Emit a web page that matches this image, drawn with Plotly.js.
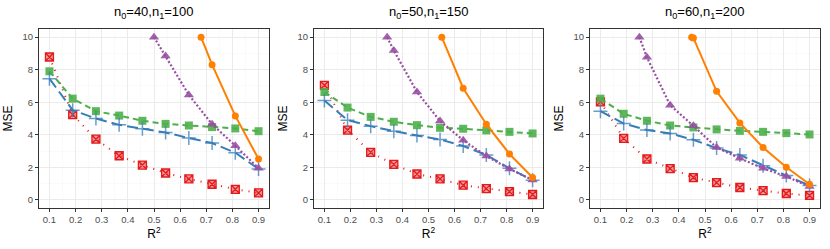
<!DOCTYPE html>
<html>
<head>
<meta charset="utf-8">
<script src="https://cdn.plot.ly/plotly-3.0.1.min.js"></script>
<style>html,body{margin:0;padding:0;background:#fff;}#chart{width:830px;height:249px;}</style>
</head>
<body>
<div id="chart"></div>
<script>
// Panel titles
const panelTitles = ["n<sub>0</sub>=40,n<sub>1</sub>=100", "n<sub>0</sub>=50,n<sub>1</sub>=150", "n<sub>0</sub>=60,n<sub>1</sub>=200"];
// Common R^2 grid
const r2 = [0.1, 0.1889, 0.2778, 0.3667, 0.4556, 0.5444, 0.6333, 0.7222, 0.8111, 0.9];
const xTicks = [0.1, 0.2, 0.3, 0.4, 0.5, 0.6, 0.7, 0.8, 0.9];
const yTicks = [0, 2, 4, 6, 8, 10];

// Red (dotted, square-x)
const redP1 = [8.78, 5.24, 3.73, 2.71, 2.14, 1.65, 1.29, 0.96, 0.65, 0.43];
const redP2 = [7.04, 4.29, 2.92, 2.18, 1.59, 1.29, 0.90, 0.69, 0.51, 0.33];
const redP3 = [6.02, 3.78, 2.51, 1.92, 1.37, 1.06, 0.76, 0.57, 0.39, 0.27];
// Green (dashed, square)
const greenP1 = [7.90, 6.22, 5.45, 5.18, 4.86, 4.67, 4.57, 4.47, 4.39, 4.22];
const greenP2 = [6.63, 5.67, 5.10, 4.80, 4.59, 4.43, 4.37, 4.27, 4.18, 4.08];
const greenP3 = [6.22, 5.29, 4.86, 4.57, 4.45, 4.33, 4.24, 4.18, 4.10, 4.02];
// Blue (longdash, plus)
const blueP1 = [7.45, 5.51, 5.00, 4.61, 4.37, 4.14, 3.80, 3.49, 2.90, 1.90];
const blueP2 = [6.10, 4.90, 4.53, 4.22, 3.96, 3.71, 3.31, 2.76, 1.94, 1.20];
const blueP3 = [5.45, 4.69, 4.29, 4.08, 3.69, 3.18, 2.76, 2.10, 1.49, 0.88];
// Purple (dotted, triangle) - first point is where the curve enters the 0-10 window
const purpleXP1 = [0.5, 0.5444, 0.6333, 0.7222, 0.8111, 0.9];
const purpleP1 = [10, 8.84, 6.45, 4.65, 3.33, 1.94];
const purpleXP2 = [0.341, 0.3667, 0.4556, 0.5444, 0.6333, 0.7222, 0.8111, 0.9];
const purpleP2 = [10, 9.18, 6.63, 4.84, 3.67, 2.69, 1.90, 1.22];
const purpleXP3 = [0.249, 0.2778, 0.3667, 0.4556, 0.5444, 0.6333, 0.7222, 0.8111, 0.9];
const purpleP3 = [10, 8.76, 5.82, 4.55, 3.22, 2.55, 1.94, 1.43, 0.82];
// Orange (solid, circle)
const orangeXP1 = [0.68, 0.7222, 0.8111, 0.9];
const orangeP1 = [10, 8.31, 5.16, 2.51];
const orangeXP2 = [0.551, 0.6333, 0.7222, 0.8111, 0.9];
const orangeP2 = [10, 6.86, 4.65, 2.82, 1.37];
const orangeXP3 = [0.449, 0.4556, 0.5444, 0.6333, 0.7222, 0.8111, 0.9];
const orangeP3 = [10, 9.95, 6.67, 4.73, 3.22, 2.00, 0.96];

const panels = [
  {red: redP1, green: greenP1, blue: blueP1, px: purpleXP1, p: purpleP1, ox: orangeXP1, o: orangeP1},
  {red: redP2, green: greenP2, blue: blueP2, px: purpleXP2, p: purpleP2, ox: orangeXP2, o: orangeP2},
  {red: redP3, green: greenP3, blue: blueP3, px: purpleXP3, p: purpleP3, ox: orangeXP3, o: orangeP3}
];

const domainsX = [[39/830, 269/830], [314/830, 543/830], [590/830, 820/830]];
const domY = [1 - 208/249, 1 - 29/249];

const traces = [];
const layout = {
  width: 830, height: 249,
  margin: {l: 0, r: 0, t: 0, b: 0},
  paper_bgcolor: "#fff", plot_bgcolor: "#fff",
  showlegend: false,
  font: {family: "Liberation Sans, Arial, sans-serif", size: 9.5, color: "#4d4d4d"},
  annotations: [], shapes: []
};

panels.forEach((pd, i) => {
  const xa = i === 0 ? "x" : "x" + (i + 1);
  const ya = i === 0 ? "y" : "y" + (i + 1);
  const common = {xaxis: xa, yaxis: ya, mode: "lines+markers", hoverinfo: "skip"};
  traces.push(Object.assign({}, common, {
    x: r2, y: pd.red,
    line: {color: "#E41A1C", width: 2, dash: "1px,6px"},
    marker: {symbol: "square-x", size: 8, color: "rgba(228,26,28,0.45)", line: {color: "#E41A1C", width: 1.3}}
  }));
  traces.push(Object.assign({}, common, {
    x: r2, y: pd.green,
    line: {color: "#4DAF4A", width: 2, dash: "6px,4px"},
    marker: {symbol: "square", size: 8, color: "rgba(77,175,74,0.9)"}
  }));
  traces.push(Object.assign({}, common, {
    x: r2, y: pd.blue,
    line: {color: "#377EB8", width: 2, dash: "11px,5px"},
    marker: {symbol: "cross-thin-open", size: 10, color: "rgba(55,126,184,0.75)", line: {color: "rgba(55,126,184,0.75)", width: 1.5}}
  }));
  traces.push(Object.assign({}, common, {
    x: pd.px, y: pd.p,
    line: {color: "#984EA3", width: 2.2, dash: "2px,2px"},
    marker: {symbol: "triangle-up", size: 9, color: "rgba(152,78,163,0.9)"}
  }));
  traces.push(Object.assign({}, common, {
    x: pd.ox, y: pd.o,
    line: {color: "#FF7F00", width: 2},
    marker: {symbol: "circle", size: 7, color: "#FF7F00"}
  }));

  const axKey = i === 0 ? "xaxis" : "xaxis" + (i + 1);
  const ayKey = i === 0 ? "yaxis" : "yaxis" + (i + 1);
  layout[axKey] = {
    domain: domainsX[i], anchor: ya, range: [0.06, 0.94],
    tickmode: "array", tickvals: xTicks, ticktext: xTicks.map(v => v.toFixed(1)),
    ticks: "outside", ticklen: 3, tickcolor: "#333", tickwidth: 1,
    showgrid: true, gridcolor: "#ebebeb", gridwidth: 1,
    minor: {dtick: 0.05, tick0: 0.05, showgrid: true, gridcolor: "#f5f5f5", gridwidth: 0.5, ticks: ""},
    zeroline: false, showline: true, linecolor: "#333", linewidth: 1, mirror: true,
    tickfont: {size: 9.5, color: "#4d4d4d"},
    title: {text: "R<sup>2</sup>", font: {size: 12, color: "#000"}, standoff: 4}
  };
  layout[ayKey] = {
    domain: domY, anchor: xa, range: [-0.5, 10.5],
    tickmode: "array", tickvals: yTicks,
    ticks: "outside", ticklen: 3, tickcolor: "#333", tickwidth: 1,
    showgrid: true, gridcolor: "#ebebeb", gridwidth: 1,
    minor: {dtick: 1, tick0: 1, showgrid: true, gridcolor: "#f5f5f5", gridwidth: 0.5, ticks: ""},
    zeroline: false, showline: true, linecolor: "#333", linewidth: 1, mirror: true,
    tickfont: {size: 9.5, color: "#4d4d4d"},
    title: {text: "MSE", font: {size: 12, color: "#000"}, standoff: 7}
  };
  layout.annotations.push({
    text: panelTitles[i], xref: "paper", yref: "paper",
    x: (domainsX[i][0] + domainsX[i][1]) / 2, y: 1 - 13/249,
    xanchor: "center", yanchor: "middle", showarrow: false,
    font: {size: 13, color: "#000"}
  });
});

Plotly.newPlot("chart", traces, layout, {staticPlot: true, displayModeBar: false});
</script>
</body>
</html>
